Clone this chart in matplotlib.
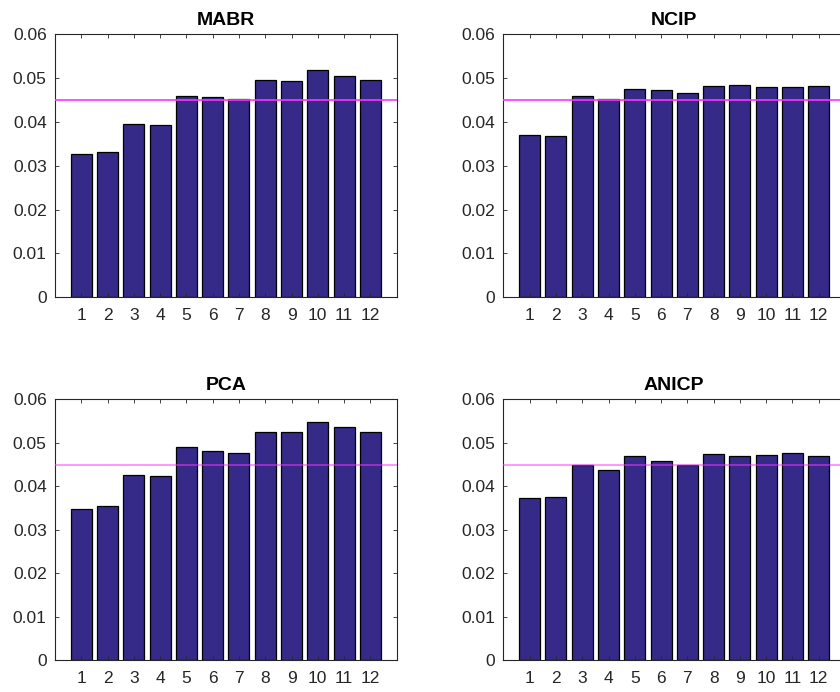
import numpy as np
from matplotlib import pyplot as plt

plt.rcParams['font.family'] = ['Liberation Sans', 'DejaVu Sans']

groups = np.arange(1, 13)

mabr = [0.0327, 0.0332, 0.0396, 0.0393, 0.0459, 0.0456, 0.0452, 0.0496, 0.0494, 0.0519, 0.0505, 0.0496]
ncip = [0.0370, 0.0367, 0.0459, 0.0452, 0.0475, 0.0473, 0.0465, 0.0481, 0.0484, 0.0479, 0.0480, 0.0481]
pca = [0.0348, 0.0355, 0.0427, 0.0424, 0.0490, 0.0481, 0.0476, 0.0526, 0.0525, 0.0549, 0.0536, 0.0526]
anicp = [0.0374, 0.0376, 0.0450, 0.0438, 0.0469, 0.0457, 0.0450, 0.0474, 0.0469, 0.0473, 0.0476, 0.0470]

titles = ["MABR", "NCIP", "PCA", "ANICP"]
threshold = 0.045

BAR_COLOR = "#352a87"
AXIS_COLOR = "#262626"


def draw_panel(ax, values, title, line_alpha):
    ax.bar(groups, values, width=0.8, color=BAR_COLOR, edgecolor="black", linewidth=0.9)
    ax.axhline(threshold, color="#ff33ff", linewidth=1.2, alpha=line_alpha, zorder=3)
    ax.set_xlim(0, 13)
    ax.set_ylim(0, 0.06)
    ax.set_xticks(groups)
    ax.set_yticks(np.arange(0, 0.061, 0.01))
    ax.set_yticklabels(["0", "0.01", "0.02", "0.03", "0.04", "0.05", "0.06"])
    ax.set_axisbelow(False)
    ax.tick_params(axis="both", direction="in", length=3, width=0.6, color=AXIS_COLOR,
                   labelcolor=AXIS_COLOR, labelsize=12.5, top=True, right=True)
    ax.tick_params(axis="x", pad=8)
    ax.tick_params(axis="y", pad=6)
    for spine in ax.spines.values():
        spine.set_color(AXIS_COLOR)
        spine.set_linewidth(0.8)
    ax.set_title(title, fontsize=14, fontweight="bold", pad=6.5)


def main():
    fig = plt.figure(figsize=(8.4, 6.92), dpi=100)

    w, h_top, h_bot = 0.4067, 0.3801, 0.3767
    positions = [
        (0.0655, 0.5704, w, h_top),
        (0.5993, 0.5704, w, h_top),
        (0.0655, 0.0462, w, h_bot),
        (0.5993, 0.0462, w, h_bot),
    ]
    data = [mabr, ncip, pca, anicp]
    alphas = [1.0, 1.0, 0.6, 0.6]

    for pos, values, title, a in zip(positions, data, titles, alphas):
        ax = fig.add_axes(pos)
        draw_panel(ax, values, title, a)

    fig.savefig("out.png", dpi=100)


if __name__ == "__main__":
    main()
